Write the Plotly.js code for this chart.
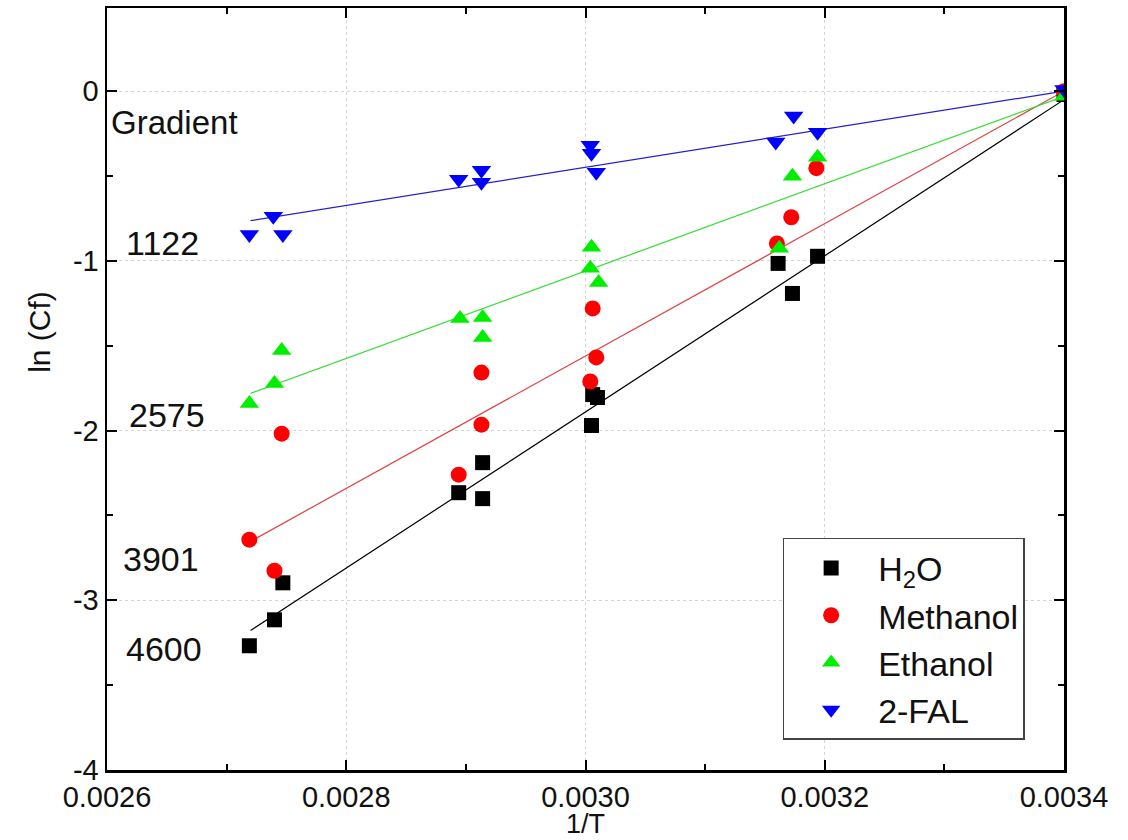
<!DOCTYPE html>
<html>
<head>
<meta charset="utf-8">
<script src="https://cdn.plot.ly/plotly-3.0.1.min.js"></script>
<style>html,body{margin:0;padding:0;background:#fff;}#chart{width:1128px;height:840px;}</style>
</head>
<body>
<div id="chart"></div>
<script>
// ---- data ----
const seriesNames = ["H<sub>2</sub>O", "Methanol", "Ethanol", "2-FAL"];

const xH2O      = [0.002719, 0.002740, 0.002747, 0.002894, 0.002914, 0.002914, 0.003005, 0.003006, 0.003010, 0.003161, 0.003173, 0.003194, 0.0034];
const yH2O      = [-3.268, -3.115, -2.897, -2.366, -2.189, -2.401, -1.970, -1.788, -1.805, -1.015, -1.192, -0.973, -0.02];

const xMethanol = [0.002719, 0.002740, 0.002746, 0.002894, 0.002913, 0.002913, 0.003004, 0.003009, 0.003006, 0.003160, 0.003172, 0.003193, 0.0034];
const yMethanol = [-2.643, -2.826, -2.018, -2.260, -1.965, -1.658, -1.711, -1.569, -1.280, -0.897, -0.743, -0.454, 0.0];

const xEthanol  = [0.002719, 0.002740, 0.002746, 0.002895, 0.002914, 0.002914, 0.003005, 0.003004, 0.003011, 0.003162, 0.003173, 0.003194, 0.0034];
const yEthanol  = [-1.841, -1.723, -1.528, -1.339, -1.333, -1.451, -0.920, -1.044, -1.127, -0.926, -0.501, -0.389, -0.03];

const xFAL      = [0.002719, 0.002739, 0.002747, 0.002894, 0.002913, 0.002913, 0.003004, 0.003005, 0.003009, 0.003159, 0.003174, 0.003194, 0.0034];
const yFAL      = [-0.844, -0.737, -0.844, -0.519, -0.466, -0.537, -0.319, -0.366, -0.478, -0.300, -0.147, -0.242, 0.01];

// linear fits: gradient (K) and ln(Cf) at the right end
const gradients = [4600, 3901, 2575, 1122];
const fitEndY   = [-0.05, 0.0, -0.03, 0.0];
const fitXStart = 0.00272;
const fitXEnd   = 0.0034;

const xTickVals = [0.0026, 0.0028, 0.0030, 0.0032, 0.0034];
const xTickText = ["0.0026", "0.0028", "0.0030", "0.0032", "0.0034"];
const yTickVals = [0, -1, -2, -3, -4];
const yTickText = ["0", "-1", "-2", "-3", "-4"];

const gradientLabels = ["1122", "2575", "3901", "4600"];
const gradientLabelY = [-0.897, -1.91, -2.755, -3.286];

// ---- styles ----
const colors   = ["#000000", "#ff0000", "#00ee00", "#0000ff"];
const lineCols = ["#000000", "#e04040", "#33dd33", "#2222cc"];
const symbols  = ["square", "circle", "triangle-up", "triangle-down"];
const sizes    = [15, 16, 17, 17];
const FONT = "Arial, 'Liberation Sans', sans-serif";

const xs = [xH2O, xMethanol, xEthanol, xFAL];
const ys = [yH2O, yMethanol, yEthanol, yFAL];

const traces = [];
// fit lines first (drawn under markers)
for (let i = 0; i < 4; i++) {
  const fx = [fitXStart, fitXEnd];
  const fy = fx.map(x => fitEndY[i] - gradients[i] * (fitXEnd - x));
  traces.push({
    x: fx, y: fy, mode: "lines", type: "scatter",
    line: {color: lineCols[i], width: 1.2},
    showlegend: false, hoverinfo: "skip"
  });
}
for (let i = 0; i < 4; i++) {
  traces.push({
    x: xs[i], y: ys[i], mode: "markers", type: "scatter",
    name: seriesNames[i], legendgroup: "g" + i,
    marker: {symbol: symbols[i], size: sizes[i], color: colors[i], line: {width: 0}}
  });
}

const annotations = [{
  x: 0.002602, y: -0.183, xref: "x", yref: "y", text: "Gradient",
  showarrow: false, xanchor: "left", yanchor: "middle",
  font: {family: FONT, size: 33, color: "#111"}
}, {
  // y-axis title
  x: (40 - 107) / 957, y: 0.575, xref: "paper", yref: "paper", xanchor: "center", yanchor: "middle",
  text: "ln (Cf)", textangle: -90, showarrow: false,
  font: {family: FONT, size: 30, color: "#111"}
}, {
  // x-axis title
  x: 0.5, y: (770 - 824) / 762, xref: "paper", yref: "paper", xanchor: "center", yanchor: "middle",
  text: "1/T", showarrow: false,
  font: {family: FONT, size: 27, color: "#111"}
}];
const labelX = [0.002614, 0.002617, 0.002612, 0.002614];
for (let i = 0; i < gradientLabels.length; i++) {
  annotations.push({
    x: labelX[i], y: gradientLabelY[i], xref: "x", yref: "y", text: gradientLabels[i],
    showarrow: false, xanchor: "left", yanchor: "middle",
    font: {family: FONT, size: 34, color: "#111"}
  });
}

const axisCommon = {
  showline: true, linecolor: "#000", linewidth: 2.5, mirror: "allticks",
  ticks: "inside", ticklen: 10, tickwidth: 2, tickcolor: "#000",
  showgrid: true, gridcolor: "#d4d4d4", gridwidth: 1, griddash: "3px,3px",
  zeroline: false,
  tickfont: {family: FONT, size: 29, color: "#111"}
};

const layout = {
  width: 1128, height: 840,
  margin: {l: 107, r: 64, t: 8, b: 70},
  paper_bgcolor: "#fff", plot_bgcolor: "#fff",
  font: {family: FONT, color: "#111"},
  showlegend: true,
  legend: {
    x: 0.706, y: 0.3045, xanchor: "left", yanchor: "top",
    bgcolor: "#fff", bordercolor: "#444", borderwidth: 1.5,
    font: {family: FONT, size: 34, color: "#111"},
    itemwidth: 84, traceorder: "grouped", tracegroupgap: 0
  },
  xaxis: Object.assign({}, axisCommon, {
    range: [0.0026, 0.0034], tickmode: "array", tickvals: xTickVals, ticktext: xTickText,
    minor: {dtick: 0.0001, ticks: "inside", ticklen: 6, tickwidth: 2, tickcolor: "#000", showgrid: false}
  }),
  yaxis: Object.assign({}, axisCommon, {
    range: [-4, 0.49], tickmode: "array", tickvals: yTickVals, ticktext: yTickText,
    minor: {dtick: 0.5, ticks: "inside", ticklen: 6, tickwidth: 2, tickcolor: "#000", showgrid: false}
  }),
  annotations: annotations
};

Plotly.newPlot("chart", traces, layout, {displayModeBar: false, staticPlot: true});
</script>
</body>
</html>
